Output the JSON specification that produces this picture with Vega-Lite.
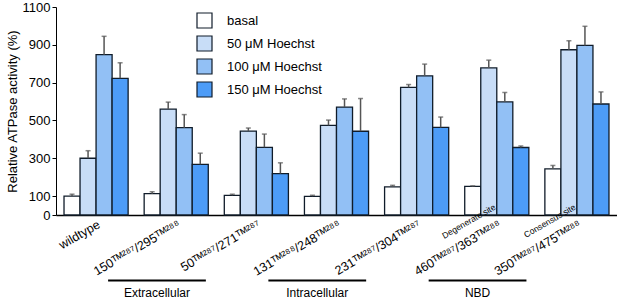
{
  "$schema": "https://vega.github.io/schema/vega-lite/v6.json",
  "width": 561,
  "height": 208,
  "autosize": {"type": "none"},
  "padding": {"left": 56, "top": 7, "right": 0, "bottom": 86},
  "background": "white",
  "config": {
    "view": {"stroke": null},
    "font": "Liberation Sans",
    "axis": {"grid": false},
    "axisY": {"labelOverlap": false, "labelFontSize": 13, "labelColor": "black", "tickColor": "black", "domainColor": "black", "tickSize": 4, "labelPadding": 2, "titlePadding": 3, "titleFontSize": 13, "titleFontWeight": "normal", "titleColor": "black"}
  },
  "layer": [
    {
      "data": {"values": [
        {"group": "wildtype", "condition": "basal", "value": 100, "upper": 110},
        {"group": "wildtype", "condition": "50 μM Hoechst", "value": 300, "upper": 340},
        {"group": "wildtype", "condition": "100 μM Hoechst", "value": 848, "upper": 945},
        {"group": "wildtype", "condition": "150 μM Hoechst", "value": 723, "upper": 805},
        {"group": "150ᵀᴹ²⁸⁷/295ᵀᴹ²⁸⁸", "condition": "basal", "value": 113, "upper": 123},
        {"group": "150ᵀᴹ²⁸⁷/295ᵀᴹ²⁸⁸", "condition": "50 μM Hoechst", "value": 560, "upper": 597},
        {"group": "150ᵀᴹ²⁸⁷/295ᵀᴹ²⁸⁸", "condition": "100 μM Hoechst", "value": 462, "upper": 531},
        {"group": "150ᵀᴹ²⁸⁷/295ᵀᴹ²⁸⁸", "condition": "150 μM Hoechst", "value": 268, "upper": 327},
        {"group": "50ᵀᴹ²⁸⁷/271ᵀᴹ²⁸⁷", "condition": "basal", "value": 104, "upper": 110},
        {"group": "50ᵀᴹ²⁸⁷/271ᵀᴹ²⁸⁷", "condition": "50 μM Hoechst", "value": 444, "upper": 460},
        {"group": "50ᵀᴹ²⁸⁷/271ᵀᴹ²⁸⁷", "condition": "100 μM Hoechst", "value": 358, "upper": 428},
        {"group": "50ᵀᴹ²⁸⁷/271ᵀᴹ²⁸⁷", "condition": "150 μM Hoechst", "value": 219, "upper": 276},
        {"group": "131ᵀᴹ²⁸⁸/248ᵀᴹ²⁸⁸", "condition": "basal", "value": 99, "upper": 104},
        {"group": "131ᵀᴹ²⁸⁸/248ᵀᴹ²⁸⁸", "condition": "50 μM Hoechst", "value": 474, "upper": 502},
        {"group": "131ᵀᴹ²⁸⁸/248ᵀᴹ²⁸⁸", "condition": "100 μM Hoechst", "value": 571, "upper": 614},
        {"group": "131ᵀᴹ²⁸⁸/248ᵀᴹ²⁸⁸", "condition": "150 μM Hoechst", "value": 443, "upper": 616},
        {"group": "231ᵀᴹ²⁸⁷/304ᵀᴹ²⁸⁷", "condition": "basal", "value": 149, "upper": 157},
        {"group": "231ᵀᴹ²⁸⁷/304ᵀᴹ²⁸⁷", "condition": "50 μM Hoechst", "value": 675, "upper": 690},
        {"group": "231ᵀᴹ²⁸⁷/304ᵀᴹ²⁸⁷", "condition": "100 μM Hoechst", "value": 736, "upper": 798},
        {"group": "231ᵀᴹ²⁸⁷/304ᵀᴹ²⁸⁷", "condition": "150 μM Hoechst", "value": 463, "upper": 518},
        {"group": "460ᵀᴹ²⁸⁷/363ᵀᴹ²⁸⁸", "condition": "basal", "value": 151, "upper": 154},
        {"group": "460ᵀᴹ²⁸⁷/363ᵀᴹ²⁸⁸", "condition": "50 μM Hoechst", "value": 778, "upper": 819},
        {"group": "460ᵀᴹ²⁸⁷/363ᵀᴹ²⁸⁸", "condition": "100 μM Hoechst", "value": 598, "upper": 648},
        {"group": "460ᵀᴹ²⁸⁷/363ᵀᴹ²⁸⁸", "condition": "150 μM Hoechst", "value": 357, "upper": 365},
        {"group": "350ᵀᴹ²⁸⁷/475ᵀᴹ²⁸⁸", "condition": "basal", "value": 244, "upper": 262},
        {"group": "350ᵀᴹ²⁸⁷/475ᵀᴹ²⁸⁸", "condition": "50 μM Hoechst", "value": 874, "upper": 922},
        {"group": "350ᵀᴹ²⁸⁷/475ᵀᴹ²⁸⁸", "condition": "100 μM Hoechst", "value": 897, "upper": 998},
        {"group": "350ᵀᴹ²⁸⁷/475ᵀᴹ²⁸⁸", "condition": "150 μM Hoechst", "value": 587, "upper": 651}
      ]},
      "layer": [
        {
          "mark": {"type": "bar", "stroke": "#101c2a", "strokeWidth": 1.3},
          "encoding": {
            "x": {"field": "group", "type": "nominal", "sort": null,
              "scale": {"domain": ["wildtype", "150ᵀᴹ²⁸⁷/295ᵀᴹ²⁸⁸", "50ᵀᴹ²⁸⁷/271ᵀᴹ²⁸⁷", "131ᵀᴹ²⁸⁸/248ᵀᴹ²⁸⁸", "231ᵀᴹ²⁸⁷/304ᵀᴹ²⁸⁷", "460ᵀᴹ²⁸⁷/363ᵀᴹ²⁸⁸", "350ᵀᴹ²⁸⁷/475ᵀᴹ²⁸⁸"], "paddingInner": 0.2, "paddingOuter": 0.1},
              "axis": {"title": null, "labelAngle": -30, "labelAlign": "right", "labelBaseline": "middle", "labelFontSize": 12.5, "labelColor": "black", "ticks": false, "tickSize": 0, "labelPadding": 8, "labelOffset": 3, "domainColor": "black", "domainWidth": 1.5, "labelOverlap": false, "labelBound": false}},
            "xOffset": {"field": "condition", "type": "nominal", "sort": null, "scale": {"domain": ["basal", "50 μM Hoechst", "100 μM Hoechst", "150 μM Hoechst"], "paddingInner": 0, "paddingOuter": 0}},
            "y": {"field": "value", "type": "quantitative", "scale": {"domain": [0, 1100], "nice": false},
              "axis": {"values": [0, 100, 300, 500, 700, 900, 1100], "tickCount": 20, "format": "d", "labelOverlap": false, "title": "Relative ATPase activity (%)"}},
            "color": {"field": "condition", "type": "nominal", "sort": null,
              "scale": {"domain": ["basal", "50 μM Hoechst", "100 μM Hoechst", "150 μM Hoechst"], "range": ["#ffffff", "#c8ddf7", "#92c0f5", "#4d9cf7"]},
              "legend": {"title": null, "orient": "none", "legendX": 140, "legendY": 5, "symbolType": "square", "symbolSize": 225, "symbolStrokeColor": "#101c2a", "symbolStrokeWidth": 1.2, "labelFontSize": 13, "labelColor": "black", "labelOffset": 14, "rowPadding": 2, "padding": 0, "symbolOpacity": 1}}
          }
        },
        {
          "mark": {"type": "rule", "color": "#555555", "strokeWidth": 1.5},
          "encoding": {
            "x": {"field": "group", "type": "nominal", "sort": null},
            "xOffset": {"field": "condition", "type": "nominal", "sort": null},
            "y": {"field": "value", "type": "quantitative"},
            "y2": {"field": "upper"}
          }
        },
        {
          "mark": {"type": "tick", "color": "#555555", "thickness": 1.5, "size": 5},
          "encoding": {
            "x": {"field": "group", "type": "nominal", "sort": null},
            "xOffset": {"field": "condition", "type": "nominal", "sort": null},
            "y": {"field": "upper", "type": "quantitative"}
          }
        },
        {
          "data": {"values": [
            {"group": "460ᵀᴹ²⁸⁷/363ᵀᴹ²⁸⁸", "site": "Degenerate site"},
            {"group": "350ᵀᴹ²⁸⁷/475ᵀᴹ²⁸⁸", "site": "Consensus site"}
          ]},
          "mark": {"type": "text", "angle": 330, "align": "right", "baseline": "middle", "fontSize": 8.5, "xOffset": 3, "yOffset": 8, "dy": -17, "dx": 4, "color": "black"},
          "encoding": {
            "x": {"field": "group", "type": "nominal", "sort": null},
            "y": {"datum": 0, "type": "quantitative"},
            "text": {"field": "site"}
          }
        }
      ]
    },
    {
      "data": {"values": [
        {"region": "Extracellular", "from": 0.65, "to": 1.87, "mid": 1.26},
        {"region": "Intracellular", "from": 2.65, "to": 3.87, "mid": 3.26},
        {"region": "NBD", "from": 4.65, "to": 5.87, "mid": 5.26}
      ]},
      "layer": [
        {
          "mark": {"type": "rule", "strokeWidth": 2, "color": "black", "yOffset": 65.5},
          "encoding": {
            "x": {"field": "from", "type": "quantitative", "scale": {"domain": [0, 7], "nice": false, "zero": false}, "axis": null},
            "x2": {"field": "to"},
            "y": {"datum": 0, "type": "quantitative"}
          }
        },
        {
          "mark": {"type": "text", "fontSize": 12, "yOffset": 78, "baseline": "middle", "align": "center", "color": "black"},
          "encoding": {
            "x": {"field": "mid", "type": "quantitative", "scale": {"domain": [0, 7], "nice": false, "zero": false}, "axis": null},
            "y": {"datum": 0, "type": "quantitative"},
            "text": {"field": "region"}
          }
        }
      ]
    }
  ],
  "resolve": {"scale": {"x": "independent"}}
}
